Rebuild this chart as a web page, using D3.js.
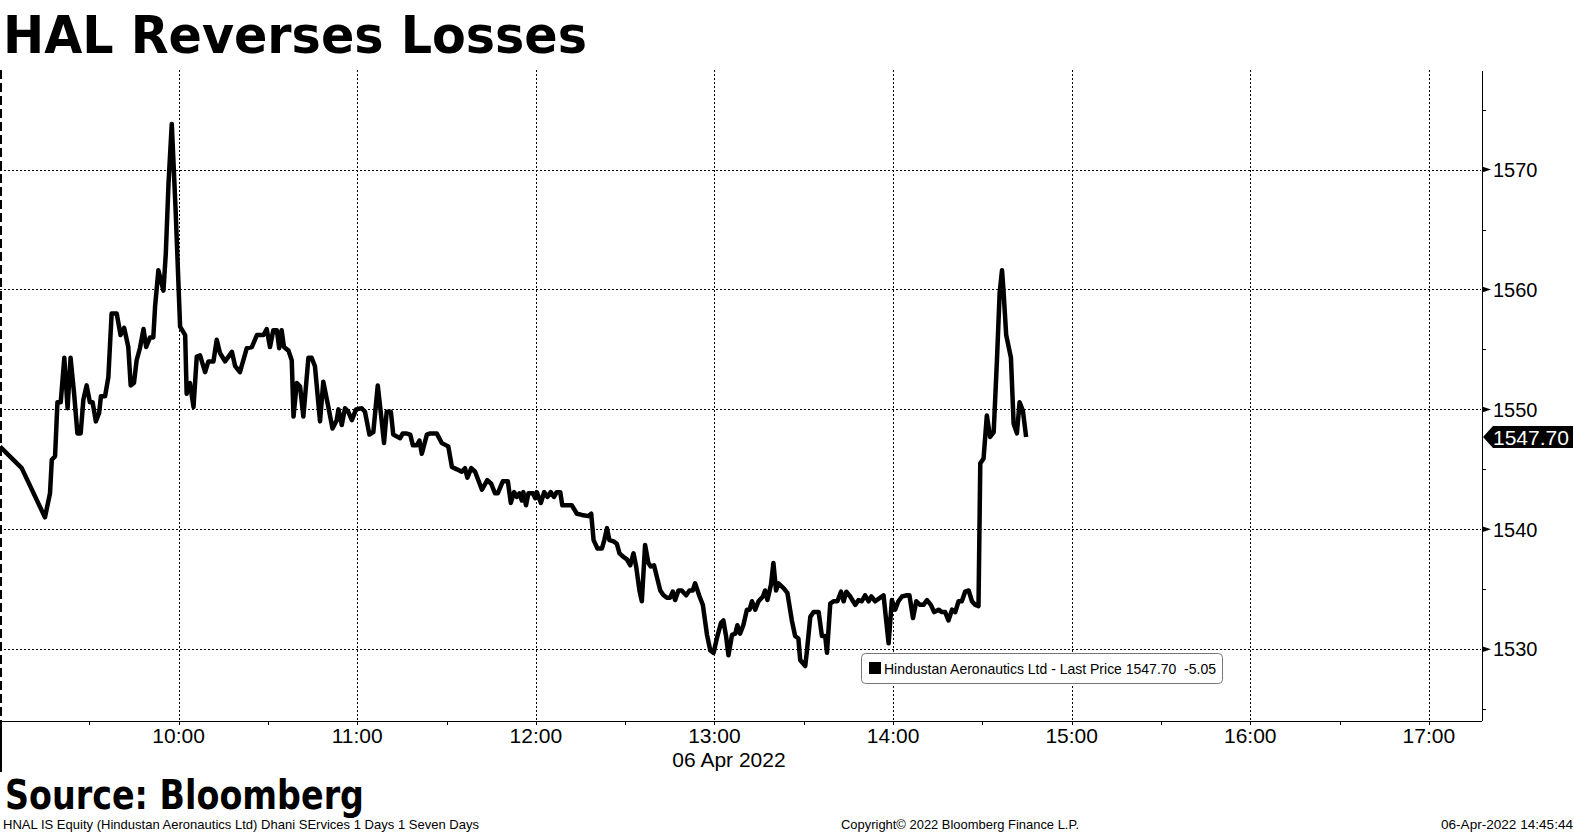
<!DOCTYPE html>
<html>
<head>
<meta charset="utf-8">
<script src="https://cdn.jsdelivr.net/npm/d3@7"></script>
<style>
  body { margin: 0; background: #fff; }
  svg { display: block; }
</style>
</head>
<body>
<svg id="chart"></svg>
<script>
// price: minutes after 09:00 and last price, in three chunks
var morningMins = [0, 7.3, 15.1, 16.8, 17.4, 18.5, 19.3, 20.4, 21.6, 22.7,
  23.7, 24.9, 26.0, 27.1, 28.0, 29.1, 30.2, 31.1, 32.2, 33.3,
  33.9, 35.3, 36.4, 37.5, 39.2, 40.5, 41.7, 43.1, 43.9, 45.0,
  45.9, 47.0, 48.2, 49.1, 50.4, 51.5, 52.1, 53.2, 54.9, 55.7,
  56.6, 57.7, 59.0, 60.5, 62.2, 62.7, 63.8, 65.0, 66.1, 67.2,
  68.9, 70.0, 71.7, 72.8, 73.9, 75.6, 77.9, 79.0, 80.6, 82.9,
  84.6, 86.3, 88.5, 89.6, 90.7, 91.8, 93.0, 93.8, 94.6, 95.4,
  96.9, 98.0, 98.6, 99.7, 100.8, 101.9, 103.6, 104.7, 105.8, 107.5,
  108.6, 110.3, 111.7, 113.1, 113.7, 114.8, 115.9, 117.0, 118.2, 119.6,
  121.5, 122.6, 124.1, 125.4, 126.9, 128.2, 129.0, 129.9, 131.3, 132.1,
  134.4];
var morningPx = [1546.9, 1545.1, 1541.0, 1543.0, 1545.8, 1546.1, 1550.6, 1550.6, 1554.3, 1550.1,
  1554.3, 1551.3, 1548.0, 1548.0, 1550.8, 1552.0, 1550.6, 1550.6, 1549.0, 1549.7,
  1551.1, 1551.1, 1552.7, 1558.0, 1558.0, 1556.2, 1556.8, 1555.2, 1552.0, 1552.2,
  1554.1, 1555.1, 1556.7, 1555.2, 1556.0, 1556.0, 1558.6, 1561.6, 1559.9, 1563.0,
  1568.8, 1573.8, 1566.6, 1556.9, 1556.2, 1551.3, 1552.2, 1550.2, 1554.4, 1554.5,
  1553.1, 1554.0, 1554.0, 1555.8, 1554.7, 1554.0, 1554.8, 1553.6, 1553.1, 1555.1,
  1555.2, 1556.2, 1556.2, 1556.7, 1555.2, 1556.6, 1556.6, 1555.1, 1556.6, 1555.2,
  1554.9, 1554.1, 1549.4, 1552.2, 1551.9, 1549.4, 1554.3, 1554.3, 1553.6, 1549.0,
  1552.3, 1550.2, 1548.4, 1549.1, 1550.0, 1548.7, 1550.1, 1549.8, 1549.1, 1550.0,
  1550.1, 1549.8, 1547.9, 1548.1, 1552.0, 1549.1, 1547.2, 1549.8, 1549.8, 1547.9,
  1547.6];

var middayMins = [135.3, 136.4, 137.8, 138.7, 140.0, 140.9, 141.7, 143.4, 144.5, 146.7,
  148.4, 149.9, 150.6, 151.8, 153.5, 155.1, 156.2, 157.0, 158.3, 159.6,
  161.9, 163.7, 165.0, 166.3, 167.2, 168.9, 170.6, 171.6, 172.7, 173.6,
  174.5, 175.3, 175.8, 176.7, 177.5, 179.0, 179.8, 180.3, 181.7, 182.8,
  183.9, 185.0, 186.1, 187.0, 188.2, 188.9, 192.1, 193.8, 195.5, 197.7,
  198.6, 199.4, 200.7, 202.2, 203.0, 203.9, 204.7, 206.1, 207.2, 208.1,
  209.4, 210.6, 211.7, 212.8, 213.7, 214.8, 215.6, 216.7, 217.8, 218.6,
  219.7, 220.4, 221.8, 222.9, 224.0, 225.1, 226.0, 226.8, 227.9, 229.0,
  230.5, 231.6, 232.7, 233.5, 235.0, 236.1, 237.5, 238.6, 239.7, 241.0,
  242.2, 243.0, 243.9, 244.7, 245.9, 247.0, 247.7, 248.6, 249.7, 250.9];
var middayPx = [1548.0, 1548.0, 1547.9, 1547.0, 1547.0, 1547.4, 1546.3, 1547.9, 1548.0, 1548.0,
  1547.2, 1547.0, 1546.9, 1545.2, 1545.0, 1544.8, 1545.1, 1544.3, 1545.1, 1544.8,
  1543.3, 1544.1, 1543.8, 1543.0, 1543.0, 1544.0, 1544.0, 1542.2, 1543.1, 1542.7,
  1543.0, 1542.4, 1543.1, 1542.0, 1543.0, 1543.0, 1542.6, 1543.1, 1542.2, 1543.1,
  1542.7, 1543.1, 1542.7, 1543.1, 1543.1, 1542.0, 1542.0, 1541.3, 1541.2, 1541.1,
  1541.3, 1539.1, 1538.4, 1538.4, 1539.1, 1540.1, 1539.1, 1539.0, 1538.8, 1538.0,
  1537.7, 1537.5, 1537.0, 1538.0, 1536.9, 1534.9, 1534.0, 1538.7, 1537.2, 1536.9,
  1537.0, 1536.3, 1534.9, 1534.5, 1534.3, 1534.3, 1534.8, 1534.1, 1534.9, 1534.9,
  1534.5, 1534.9, 1534.9, 1535.5, 1534.4, 1533.7, 1531.2, 1529.9, 1529.7, 1531.1,
  1532.2, 1532.4, 1531.1, 1529.5, 1531.2, 1531.3, 1532.0, 1531.3, 1532.0, 1533.3];

var afternoonMins = [251.8, 252.6, 253.7, 254.8, 256.3, 257.0, 257.8, 259.0, 259.8, 260.7,
  261.5, 263.2, 264.5, 266.0, 267.1, 268.2, 268.8, 270.5, 271.0, 272.2,
  273.3, 275.0, 276.1, 277.2, 277.8, 278.9, 280.0, 281.3, 282.5, 283.4,
  284.3, 285.6, 287.3, 288.4, 289.5, 290.6, 291.8, 292.7, 294.0, 295.7,
  296.8, 298.5, 299.6, 300.7, 301.8, 303.0, 304.7, 305.5, 306.7, 307.8,
  309.1, 310.2, 311.4, 312.7, 313.8, 315.3, 316.4, 317.5, 318.6, 319.8,
  320.9, 322.0, 323.1, 324.2, 325.4, 326.5, 327.6, 328.7, 329.3, 330.4,
  331.5, 332.6, 333.8, 334.9, 335.8, 336.6, 337.1, 338.0, 339.6, 340.5,
  341.6, 342.5, 343.6, 344.7];
var afternoonPx = [1533.3, 1534.0, 1533.3, 1534.0, 1534.4, 1534.9, 1534.1, 1535.4, 1537.2, 1534.9,
  1535.5, 1535.1, 1534.7, 1532.4, 1531.1, 1530.9, 1529.1, 1528.6, 1529.7, 1532.7,
  1533.1, 1533.1, 1531.1, 1531.1, 1529.7, 1533.8, 1534.0, 1534.0, 1534.8, 1534.0,
  1534.8, 1534.4, 1533.7, 1534.1, 1534.0, 1534.5, 1534.0, 1534.4, 1534.0, 1534.3,
  1534.5, 1530.5, 1534.1, 1533.3, 1534.0, 1534.4, 1534.5, 1534.5, 1532.6, 1534.0,
  1533.7, 1533.7, 1534.1, 1533.7, 1533.1, 1533.3, 1533.1, 1533.1, 1532.4, 1533.3,
  1533.1, 1534.0, 1534.0, 1534.8, 1534.9, 1534.0, 1533.7, 1533.6, 1545.5, 1545.9,
  1549.5, 1547.7, 1548.1, 1554.1, 1559.7, 1561.6, 1559.9, 1556.2, 1554.3, 1548.8,
  1548.0, 1550.6, 1549.9, 1547.7];

var priceTicks = [1530, 1540, 1550, 1560, 1570];
var priceMinor = [1525, 1535, 1545, 1555, 1565, 1575];
var hourLabels = ["10:00", "11:00", "12:00", "13:00", "14:00", "15:00", "16:00", "17:00"];
var lastPrice = 1547.70;
var netChange = -5.05;

var W = 1574, H = 835;
var plotL = 0, plotR = 1481, plotT = 70, plotB = 720;

var day = new Date(2022, 3, 6, 9, 0, 0);
function atMinute(m) { return new Date(day.getTime() + m * 60000); }
function hhmm(s) { var p = s.split(":"); return new Date(2022, 3, 6, +p[0], +p[1]); }

function joinSeries(mins, px) {
  if (mins.length != px.length) console.warn("length mismatch", mins.length, px.length);
  return mins.map(function(m, i) { return { date: atMinute(m), value: px[i] }; });
}
var data = joinSeries(morningMins, morningPx)
  .concat(joinSeries(middayMins, middayPx))
  .concat(joinSeries(afternoonMins, afternoonPx));

var svg = d3.select("#chart").attr("width", W).attr("height", H);

var x = d3.scaleTime()
  .domain([new Date(2022, 3, 6, 9, 0), new Date(2022, 3, 6, 17, 17, 30)])
  .range([plotL, plotR]);
var y = d3.scaleLinear().domain([1524.1, 1578.3]).range([plotB, plotT]);

// title
svg.append("text")
  .attr("x", 3).attr("y", 53)
  .attr("textLength", 584).attr("lengthAdjust", "spacingAndGlyphs")
  .style("font-family", "DejaVu Sans, Verdana, sans-serif")
  .style("font-weight", "bold").style("font-size", "51px")
  .text("HAL Reverses Losses");

// grid
var grid = svg.append("g").attr("shape-rendering", "crispEdges");
grid.selectAll(".hgrid")
  .data(priceTicks)
  .enter().append("line")
  .attr("x1", plotL).attr("x2", plotR)
  .attr("y1", function(d) { return Math.round(y(d)) + 0.5; })
  .attr("y2", function(d) { return Math.round(y(d)) + 0.5; })
  .attr("stroke", "#000").attr("stroke-dasharray", "2,2");
grid.selectAll(".vgrid")
  .data(hourLabels)
  .enter().append("line")
  .attr("x1", function(d) { return Math.round(x(hhmm(d))) + 0.5; })
  .attr("x2", function(d) { return Math.round(x(hhmm(d))) + 0.5; })
  .attr("y1", plotT).attr("y2", plotB)
  .attr("stroke", "#000").attr("stroke-dasharray", "2,2");

// left edge line, dashed inside the plot
svg.append("line")
  .attr("x1", 1).attr("x2", 1).attr("y1", plotT).attr("y2", plotB)
  .attr("stroke", "#000").attr("stroke-width", 2).attr("stroke-dasharray", "9,4");
svg.append("line")
  .attr("x1", 1).attr("x2", 1).attr("y1", plotB).attr("y2", 772)
  .attr("stroke", "#000").attr("stroke-width", 2);

// bottom axis: half hour ticks, hour labels
var xAxis = d3.axisBottom(x)
  .ticks(d3.timeMinute.every(30))
  .tickSize(4).tickSizeOuter(0)
  .tickFormat("");
var gx = svg.append("g")
  .attr("transform", "translate(0," + (plotB + 0.5) + ")")
  .attr("shape-rendering", "crispEdges")
  .call(xAxis);
gx.select(".domain").attr("stroke", "#000");
gx.selectAll(".tick line").attr("stroke", "#000");

svg.append("g").selectAll("text")
  .data(hourLabels)
  .enter().append("text")
  .attr("x", function(d) { return x(hhmm(d)); })
  .attr("y", 743)
  .attr("text-anchor", "middle")
  .style("font-family", "Liberation Sans, Arial, sans-serif")
  .style("font-size", "21px")
  .text(function(d) { return d; });

svg.append("text")
  .attr("x", 729).attr("y", 767)
  .attr("text-anchor", "middle")
  .style("font-family", "Liberation Sans, Arial, sans-serif")
  .style("font-size", "21px")
  .text("06 Apr 2022");

// right axis
var gy = svg.append("g")
  .attr("transform", "translate(" + (plotR + 0.5) + ",0)")
  .attr("shape-rendering", "crispEdges")
  .call(d3.axisRight(y).tickValues(priceMinor).tickSize(4).tickSizeOuter(0).tickFormat(""));
gy.select(".domain").attr("stroke", "#000");
gy.selectAll(".tick line").attr("stroke", "#000");

var major = svg.append("g").selectAll("g")
  .data(priceTicks)
  .enter().append("g")
  .attr("transform", function(d) { return "translate(" + plotR + "," + y(d) + ")"; });
major.append("path")
  .attr("d", "M1,-3L10,0L1,3Z")
  .attr("fill", "#000");
major.append("text")
  .attr("x", 12).attr("dy", "0.36em")
  .style("font-family", "Liberation Sans, Arial, sans-serif")
  .style("font-size", "20px")
  .text(function(d) { return d; });

// price line
var line = d3.line()
  .x(function(d) { return x(d.date); })
  .y(function(d) { return y(d.value); });
svg.append("path")
  .datum(data)
  .attr("d", line)
  .attr("fill", "none")
  .attr("stroke", "#000")
  .attr("stroke-width", 4.5)
  .attr("stroke-linejoin", "round");

// last price tag
var py = y(lastPrice);
svg.append("path")
  .attr("d", "M" + (plotR + 2) + "," + py + "L" + (plotR + 12) + "," + (py - 11) +
    "L1573," + (py - 11) + "L1573," + (py + 11) + "L" + (plotR + 12) + "," + (py + 11) + "Z")
  .attr("fill", "#000");
svg.append("text")
  .attr("x", plotR + 12).attr("y", py).attr("dy", "0.36em")
  .attr("fill", "#fff")
  .style("font-family", "Liberation Sans, Arial, sans-serif")
  .style("font-size", "21px")
  .text(lastPrice.toFixed(2));

// legend
var legend = svg.append("g").attr("transform", "translate(861,653)");
legend.append("rect")
  .attr("x", 0.5).attr("y", 0.5).attr("width", 361).attr("height", 30)
  .attr("rx", 4).attr("ry", 4)
  .attr("fill", "#fff").attr("stroke", "#777");
legend.append("rect")
  .attr("x", 8).attr("y", 9).attr("width", 12).attr("height", 12)
  .attr("fill", "#000");
legend.append("text")
  .attr("x", 23).attr("y", 21)
  .attr("textLength", 332).attr("lengthAdjust", "spacingAndGlyphs")
  .style("font-family", "Liberation Sans, Arial, sans-serif")
  .style("font-size", "15px")
  .style("white-space", "pre")
  .text("Hindustan Aeronautics Ltd - Last Price " + lastPrice.toFixed(2) + "  " + netChange.toFixed(2));

// source and footer
svg.append("text")
  .attr("x", 5).attr("y", 809)
  .attr("textLength", 359).attr("lengthAdjust", "spacingAndGlyphs")
  .style("font-family", "DejaVu Sans, Verdana, sans-serif")
  .style("font-weight", "bold").style("font-size", "40px")
  .text("Source: Bloomberg");

var foot = { "font-family": "Liberation Sans Narrow, Liberation Sans, Arial, sans-serif", "font-size": "13px" };
function footer(txt, xpos, anchor, len) {
  var t = svg.append("text")
    .attr("x", xpos).attr("y", 829)
    .attr("text-anchor", anchor)
    .attr("textLength", len).attr("lengthAdjust", "spacingAndGlyphs")
    .text(txt);
  Object.keys(foot).forEach(function(k) { t.style(k, foot[k]); });
}
footer("HNAL IS Equity (Hindustan Aeronautics Ltd) Dhani SErvices 1 Days 1 Seven Days", 3, "start", 476);
footer("Copyright\u00a9 2022 Bloomberg Finance L.P.", 841, "start", 238);
footer("06-Apr-2022 14:45:44", 1573, "end", 132);
</script>
</body>
</html>
